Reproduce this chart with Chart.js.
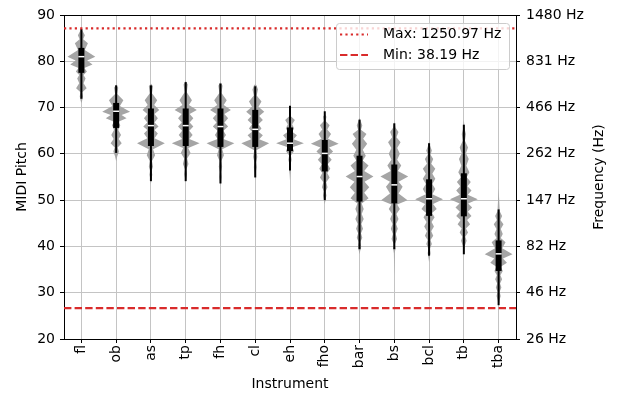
<!DOCTYPE html>
<html>
<head>
<meta charset="utf-8">
<script src="https://cdn.jsdelivr.net/npm/chart.js@4.4.1/dist/chart.umd.min.js"></script>
<style>body{margin:0;background:#fff}</style>
</head>
<body>
<canvas id="chart" width="622" height="394"></canvas>
<script>
const instruments = ['fl', 'ob', 'as', 'tp', 'fh', 'cl', 'eh', 'fho', 'bar', 'bs', 'bcl', 'tb', 'tba'];

// box + whisker stats (MIDI pitch)
const whiskerHigh = [87.0, 74.8, 74.8, 75.5, 75.2, 74.6, 70.4, 69.2, 67.4, 66.6, 62.3, 66.3, 48.0];
const boxQ3       = [82.9, 71.0, 69.8, 69.8, 69.8, 69.5, 65.7, 63.0, 59.6, 57.7, 54.5, 55.8, 41.3];
const medians     = [81.0, 69.2, 66.1, 66.1, 65.9, 65.3, 62.3, 60.1, 55.1, 53.3, 50.3, 50.3, 38.4];
const boxQ1       = [77.5, 65.6, 61.7, 61.7, 61.5, 61.5, 60.6, 56.2, 49.7, 49.3, 46.6, 46.5, 34.7];
const whiskerLow  = [71.9, 60.2, 54.1, 54.1, 53.6, 54.9, 56.4, 50.0, 39.4, 39.4, 38.0, 38.3, 27.3];

// violin extent
const violinHigh = [87.2, 75.0, 75.2, 75.8, 75.5, 75.0, 68.3, 68.6, 67.8, 67.0, 62.6, 67.3, 52.5];
const violinLow  = [71.0, 58.4, 53.5, 53.8, 53.0, 54.3, 54.2, 49.1, 38.3, 33.8, 36.6, 39.2, 27.0];

// density bumps [pitch, relative width], top to bottom
const violinPeaks = [
  [[85.6, 0.25], [83.9, 0.47], [81.0, 1.0], [79.3, 0.8], [77.8, 0.4], [76.3, 0.3], [74.2, 0.38], [72.4, 0.12]],
  [[74.3, 0.15], [71.6, 0.52], [69.1, 1.0], [67.7, 0.75], [66.2, 0.3], [64.1, 0.35], [62.3, 0.4], [60.5, 0.2]],
  [[74.6, 0.15], [71.6, 0.45], [69.5, 0.6], [67.7, 0.5], [65.9, 0.55], [64.4, 0.5], [62.3, 1.0], [59.7, 0.3], [57.2, 0.15], [55.5, 0.1]],
  [[75.0, 0.15], [71.6, 0.45], [69.5, 0.8], [67.7, 0.55], [65.9, 0.55], [64.1, 0.5], [62.3, 1.0], [60.2, 0.35], [57.8, 0.2], [55.6, 0.1]],
  [[74.7, 0.15], [71.6, 0.45], [69.5, 0.75], [67.7, 0.55], [65.9, 0.55], [64.1, 0.4], [62.3, 1.0], [59.7, 0.25], [57.2, 0.12], [55.0, 0.08]],
  [[73.9, 0.2], [71.3, 0.45], [69.1, 0.65], [67.3, 0.55], [65.5, 0.45], [64.0, 0.55], [62.3, 1.0], [59.3, 0.15], [57.1, 0.1]],
  [[67.3, 0.35], [65.5, 0.3], [64.0, 0.5], [62.3, 1.0], [60.6, 0.3], [58.7, 0.12], [56.5, 0.06]],
  [[68.0, 0.12], [66.2, 0.35], [64.3, 0.45], [62.2, 1.0], [60.5, 0.6], [58.7, 0.5], [56.8, 0.4], [54.9, 0.35], [52.8, 0.2], [51.0, 0.12]],
  [[66.1, 0.2], [64.3, 0.5], [62.2, 0.55], [59.6, 0.45], [57.5, 0.65], [55.1, 1.0], [52.8, 0.7], [50.4, 0.65], [48.1, 0.3], [45.9, 0.3], [43.8, 0.25], [41.9, 0.2], [40.0, 0.12]],
  [[64.7, 0.3], [62.5, 0.45], [60.0, 0.4], [57.5, 0.5], [55.1, 1.0], [52.9, 0.6], [50.0, 0.95], [48.1, 0.4], [45.9, 0.3], [43.8, 0.25], [41.6, 0.2], [39.5, 0.08]],
  [[60.7, 0.2], [58.9, 0.3], [56.8, 0.45], [54.6, 0.45], [52.4, 0.45], [50.2, 1.0], [48.1, 0.55], [46.3, 0.4], [44.3, 0.35], [42.3, 0.3], [40.5, 0.2], [38.5, 0.1]],
  [[64.3, 0.15], [61.4, 0.3], [58.9, 0.35], [56.0, 0.4], [53.9, 0.5], [52.1, 0.55], [50.2, 1.0], [48.4, 0.6], [46.6, 0.55], [44.8, 0.45], [43.0, 0.3], [41.2, 0.2]],
  [[46.6, 0.25], [44.8, 0.35], [42.7, 0.3], [40.9, 0.5], [38.3, 1.0], [36.5, 0.6], [34.7, 0.3], [32.9, 0.25], [31.1, 0.2], [29.3, 0.15]]
];

const maxPitch = 87.09; // 1250.97 Hz
const minPitch = 26.69; // 38.19 Hz
const freqLabels = ['26 Hz', '46 Hz', '82 Hz', '147 Hz', '262 Hz', '466 Hz', '831 Hz', '1480 Hz'];

const red = '#d92b2b';
Chart.defaults.font.family = 'DejaVu Sans';
Chart.defaults.font.size = 14;
Chart.defaults.color = '#000';

// outline of one violin: peaks, narrow valleys between, thin tails to the extent
function violinOutline(i) {
  const pk = violinPeaks[i];
  const pts = [[violinHigh[i], 0]];
  const first = pk[0], last = pk[pk.length - 1];
  if (violinHigh[i] - first[0] > 1) pts.push([first[0] + 1, Math.min(0.08, 0.4 * first[1])]);
  pk.forEach((p, j) => {
    if (j > 0) {
      const prev = pk[j - 1];
      pts.push([(prev[0] + p[0]) / 2, 0.52 * Math.min(prev[1], p[1])]);
    }
    pts.push(p);
  });
  if (last[0] - violinLow[i] > 1) pts.push([last[0] - 1, Math.min(0.08, 0.4 * last[1])]);
  pts.push([violinLow[i], 0]);
  return pts;
}

const violinPlugin = {
  id: 'violins',
  beforeDatasetsDraw(chart) {
    const { ctx, chartArea, scales: { x, y } } = chart;
    const halfMax = x.getPixelForValue(1.4) - x.getPixelForValue(1);
    ctx.save();
    ctx.beginPath();
    ctx.rect(chartArea.left, chartArea.top, chartArea.width, chartArea.height);
    ctx.clip();
    instruments.forEach((name, i) => {
      const cx = x.getPixelForValue(i + 1);
      const pts = violinOutline(i);

      ctx.beginPath();
      pts.forEach(([p, w], k) => {
        const px = cx + w * halfMax, py = y.getPixelForValue(p);
        if (k) ctx.lineTo(px, py); else ctx.moveTo(px, py);
      });
      for (let k = pts.length - 1; k >= 0; k--) {
        ctx.lineTo(cx - pts[k][1] * halfMax, y.getPixelForValue(pts[k][0]));
      }
      ctx.closePath();
      ctx.fillStyle = '#a5a5a5';
      ctx.fill();

      ctx.strokeStyle = '#000';
      ctx.lineWidth = 2;
      ctx.beginPath();
      ctx.moveTo(cx, y.getPixelForValue(whiskerHigh[i]));
      ctx.lineTo(cx, y.getPixelForValue(whiskerLow[i]));
      ctx.stroke();

      const top = y.getPixelForValue(boxQ3[i]);
      const bot = y.getPixelForValue(boxQ1[i]);
      ctx.fillStyle = '#000';
      ctx.fillRect(cx - 3, top, 6, bot - top);

      ctx.strokeStyle = '#fff';
      ctx.lineWidth = 1.5;
      ctx.beginPath();
      const my = y.getPixelForValue(medians[i]);
      ctx.moveTo(cx - 3, my);
      ctx.lineTo(cx + 3, my);
      ctx.stroke();
    });
    ctx.restore();
  },
  afterDraw(chart) {
    const { ctx, chartArea } = chart;
    ctx.save();
    // top spine
    ctx.strokeStyle = '#000';
    ctx.lineWidth = 1;
    ctx.beginPath();
    ctx.moveTo(chartArea.left, chartArea.top + 0.5);
    ctx.lineTo(chartArea.right, chartArea.top + 0.5);
    ctx.stroke();

    // right axis title, reads bottom to top
    ctx.fillStyle = '#000';
    ctx.font = '14px "DejaVu Sans"';
    ctx.textAlign = 'center';
    ctx.textBaseline = 'middle';
    ctx.translate(599, (chartArea.top + chartArea.bottom) / 2);
    ctx.rotate(-Math.PI / 2);
    ctx.fillText('Frequency (Hz)', 0, 0);
    ctx.restore();

    // legend
    ctx.save();
    const lx = 336, ly = 23, lw = 173, lh = 46;
    ctx.beginPath();
    ctx.roundRect(lx + 0.5, ly + 0.5, lw, lh, 3);
    ctx.fillStyle = 'rgba(255,255,255,0.8)';
    ctx.fill();
    ctx.strokeStyle = '#cccccc';
    ctx.lineWidth = 1;
    ctx.stroke();
    chart.data.datasets.forEach((ds, k) => {
      const rowY = ly + 11.5 + k * 20.5;
      ctx.strokeStyle = ds.borderColor;
      ctx.lineWidth = ds.borderWidth;
      ctx.setLineDash(ds.borderDash);
      ctx.beginPath();
      ctx.moveTo(lx + 4, rowY);
      ctx.lineTo(lx + 32, rowY);
      ctx.stroke();
      ctx.setLineDash([]);
      ctx.fillStyle = '#000';
      ctx.font = '14px "DejaVu Sans"';
      ctx.textAlign = 'left';
      ctx.textBaseline = 'middle';
      ctx.fillText(ds.label, lx + 47, rowY);
    });
    ctx.restore();
  }
};

new Chart(document.getElementById('chart'), {
  type: 'scatter',
  data: {
    datasets: [
      {
        label: 'Max: 1250.97 Hz',
        data: [{ x: 0.5, y: maxPitch }, { x: 13.5, y: maxPitch }],
        showLine: true, borderColor: red, borderWidth: 2.2, borderDash: [2.2, 3.2], pointRadius: 0
      },
      {
        label: 'Min: 38.19 Hz',
        data: [{ x: 0.5, y: minPitch }, { x: 13.5, y: minPitch }],
        showLine: true, borderColor: red, borderWidth: 2.2, borderDash: [7.4, 3.2], pointRadius: 0
      }
    ]
  },
  options: {
    responsive: false,
    animation: false,
    devicePixelRatio: 1,
    layout: { padding: { top: 15, left: 0, right: 0, bottom: 0 } },
    plugins: { legend: { display: false }, tooltip: { enabled: false } },
    scales: {
      x: {
        type: 'linear', min: 0.5, max: 13.5,
        afterBuildTicks: s => { s.ticks = instruments.map((_, i) => ({ value: i + 1 })); },
        afterFit: s => { s.height = 55; },
        ticks: { autoSkip: false, minRotation: 90, maxRotation: 90, padding: 2, callback: (v, i) => instruments[i] },
        grid: { color: '#c4c4c4', tickColor: '#000', tickLength: 4 },
        border: { color: '#000' },
        title: { display: true, text: 'Instrument', padding: { top: 0, bottom: 1.5 } }
      },
      y: {
        position: 'left', min: 20, max: 90,
        afterFit: s => { s.width = 64; },
        ticks: { stepSize: 10, padding: 5 },
        grid: { color: '#c4c4c4', tickColor: '#000', tickLength: 4 },
        border: { color: '#000' },
        title: { display: true, text: 'MIDI Pitch', padding: { top: 13.5, bottom: 0 } }
      },
      y2: {
        position: 'right', min: 20, max: 90,
        afterFit: s => { s.width = 106; },
        ticks: { stepSize: 10, padding: 6, callback: (v, i) => freqLabels[i] },
        grid: { drawOnChartArea: false, tickColor: '#000', tickLength: 4 },
        border: { color: '#000' }
      }
    }
  },
  plugins: [violinPlugin]
});
</script>
</body>
</html>
